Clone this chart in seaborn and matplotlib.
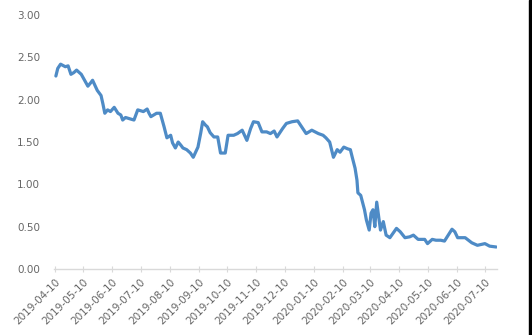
import matplotlib
matplotlib.use("Agg")
import matplotlib.pyplot as plt
from matplotlib.ticker import FormatStrFormatter
from matplotlib.patches import Rectangle
import seaborn as sns
import pandas as pd

dates = [
    "2019-04-11", "2019-04-13", "2019-04-16", "2019-04-21", "2019-04-24", "2019-04-27",
    "2019-04-30", "2019-05-03", "2019-05-08", "2019-05-11", "2019-05-15", "2019-05-18",
    "2019-05-20", "2019-05-25", "2019-05-29", "2019-05-31", "2019-06-02", "2019-06-05",
    "2019-06-08", "2019-06-12", "2019-06-16", "2019-06-19", "2019-06-21", "2019-06-24",
    "2019-06-27", "2019-07-03", "2019-07-07", "2019-07-10", "2019-07-13", "2019-07-17",
    "2019-07-19", "2019-07-21", "2019-07-24", "2019-07-27", "2019-07-31", "2019-08-04",
    "2019-08-07", "2019-08-11", "2019-08-13", "2019-08-16", "2019-08-19", "2019-08-22",
    "2019-08-24", "2019-08-28", "2019-09-01", "2019-09-04", "2019-09-09", "2019-09-12",
    "2019-09-14", "2019-09-17", "2019-09-19", "2019-09-22", "2019-09-26", "2019-09-30",
    "2019-10-03", "2019-10-08", "2019-10-11", "2019-10-17", "2019-10-21", "2019-10-26",
    "2019-10-31", "2019-11-04", "2019-11-07", "2019-11-12", "2019-11-16", "2019-11-21",
    "2019-11-25", "2019-11-29", "2019-12-02", "2019-12-08", "2019-12-12", "2019-12-18",
    "2019-12-24", "2019-12-27", "2020-01-02", "2020-01-08", "2020-01-15", "2020-01-20",
    "2020-01-23", "2020-01-27", "2020-01-31", "2020-02-04", "2020-02-07", "2020-02-11",
    "2020-02-15", "2020-02-18", "2020-02-20", "2020-02-23", "2020-02-25", "2020-02-26",
    "2020-02-29", "2020-03-04", "2020-03-06", "2020-03-09", "2020-03-11", "2020-03-13",
    "2020-03-15", "2020-03-17", "2020-03-21", "2020-03-24", "2020-03-27", "2020-03-31",
    "2020-04-07", "2020-04-11", "2020-04-16", "2020-04-21", "2020-04-25", "2020-04-30",
    "2020-05-07", "2020-05-10", "2020-05-15", "2020-05-19", "2020-05-24", "2020-05-28",
    "2020-06-01", "2020-06-05", "2020-06-08", "2020-06-11", "2020-06-19", "2020-06-26",
    "2020-07-02", "2020-07-10", "2020-07-15", "2020-07-22",
]
values = [
    2.28, 2.37, 2.42, 2.39, 2.40, 2.30,
    2.32, 2.35, 2.30, 2.24, 2.16, 2.20,
    2.23, 2.11, 2.05, 1.95, 1.84, 1.88,
    1.86, 1.91, 1.84, 1.82, 1.76, 1.79,
    1.78, 1.76, 1.88, 1.87, 1.86, 1.89,
    1.84, 1.80, 1.82, 1.84, 1.84, 1.68,
    1.55, 1.58, 1.49, 1.43, 1.50, 1.46,
    1.43, 1.41, 1.37, 1.32, 1.44, 1.61,
    1.74, 1.70, 1.68, 1.61, 1.56, 1.56,
    1.37, 1.37, 1.58, 1.58, 1.60, 1.64,
    1.52, 1.66, 1.74, 1.73, 1.62, 1.62,
    1.60, 1.63, 1.56, 1.66, 1.72, 1.74,
    1.75, 1.70, 1.60, 1.64, 1.60, 1.58,
    1.55, 1.50, 1.32, 1.41, 1.38, 1.44,
    1.42, 1.41, 1.32, 1.19, 1.05, 0.90,
    0.87, 0.70, 0.58, 0.46, 0.66, 0.70,
    0.50, 0.79, 0.46, 0.56, 0.40, 0.37,
    0.48, 0.44, 0.37, 0.38, 0.40, 0.35,
    0.35, 0.30, 0.35, 0.34, 0.34, 0.33,
    0.40, 0.47, 0.44, 0.37, 0.37, 0.31,
    0.28, 0.30, 0.27, 0.26,
]
tick_dates = [
    "2019-04-10", "2019-05-10", "2019-06-10", "2019-07-10", "2019-08-10", "2019-09-10",
    "2019-10-10", "2019-11-10", "2019-12-10", "2020-01-10", "2020-02-10", "2020-03-10",
    "2020-04-10", "2020-05-10", "2020-06-10", "2020-07-10",
]
y_ticks = [0.0, 0.5, 1.0, 1.5, 2.0, 2.5, 3.0]

df = pd.DataFrame({"date": pd.to_datetime(dates), "value": values})

sns.set_style("white")
plt.rcParams["font.family"] = ["DejaVu Sans"]

fig = plt.figure(figsize=(5.32, 3.35), dpi=100)
ax = fig.add_axes([0.1015, 0.197, 0.833, 0.758])

sns.lineplot(data=df, x="date", y="value", ax=ax, color="#4E8BC6", linewidth=2.3)

ax.set_ylim(0, 3.0)
ax.set_yticks(y_ticks)
ax.yaxis.set_major_formatter(FormatStrFormatter("%.2f"))
ax.set_xlim(pd.Timestamp("2019-04-09"), pd.Timestamp("2020-07-23"))
ax.set_xticks(pd.to_datetime(tick_dates))
ax.set_xticklabels(tick_dates, rotation=45, ha="right", rotation_mode="anchor")

ax.set_xlabel("")
ax.set_ylabel("")
for s in ["top", "right", "left"]:
    ax.spines[s].set_visible(False)
ax.spines["bottom"].set_color("#D9D9D9")
ax.spines["bottom"].set_linewidth(1.0)
ax.tick_params(axis="y", length=0, labelsize=7.5, labelcolor="#666666", pad=10)
ax.tick_params(axis="x", direction="inout", length=5, width=0.8, color="#D9D9D9",
               labelsize=7.5, labelcolor="#666666", pad=3, bottom=True)
ax.grid(False)

fig.patches.append(Rectangle((0.9945, 0), 0.0055, 1, transform=fig.transFigure,
                             color="black", zorder=10))

fig.savefig("out.png", dpi=100)
